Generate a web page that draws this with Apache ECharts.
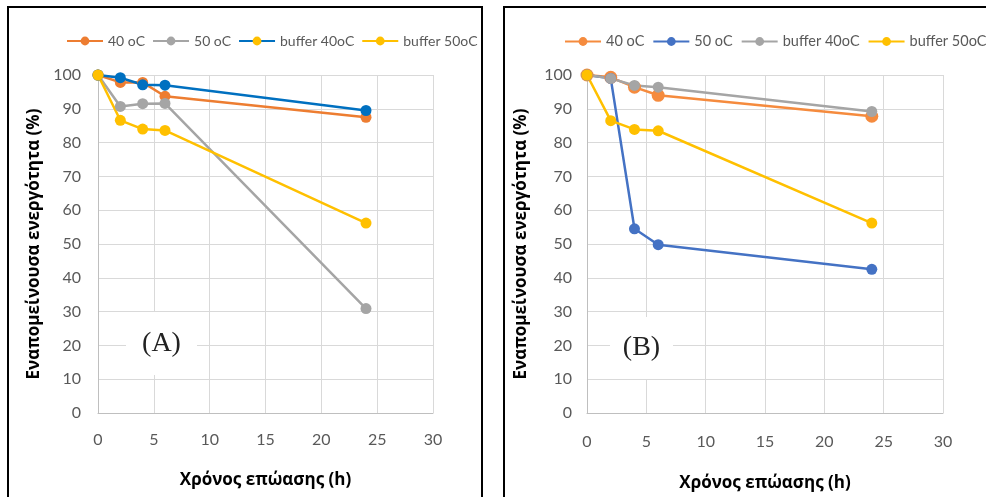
<!DOCTYPE html>
<html>
<head>
<meta charset="utf-8">
<script src="https://cdn.jsdelivr.net/npm/echarts@6/dist/echarts.min.js"></script>
<style>
  html, body { margin: 0; padding: 0; background: #fff; }
  #wrap { position: relative; width: 986px; height: 497px; overflow: hidden; }
  .panel { position: absolute; top: 0; width: 493px; height: 497px; }
</style>
</head>
<body>
<div id="wrap">
  <div id="panelA" class="panel" style="left:0"></div>
  <div id="panelB" class="panel" style="left:493px"></div>
</div>
<script>
// Incubation time (h)
const hours = [0, 2, 4, 6, 24];
const xTicks = { min: 0, max: 30, interval: 5 };
const yTicks = { min: 0, max: 100, interval: 10 };

// Panel (A): remaining activity (%)
const seriesNamesA = ['40 oC', '50 oC', 'buffer 40oC', 'buffer 50oC'];
const a40 = [100, 97.8, 97.8, 93.7, 87.5];
const a50 = [100, 90.7, 91.5, 91.6, 30.9];
const aBuf40 = [100, 99.2, 97.1, 97.0, 89.5];
const aBuf50 = [100, 86.6, 84.0, 83.6, 56.2];

// Panel (B): remaining activity (%)
const seriesNamesB = ['40 oC', '50 oC', 'buffer 40oC', 'buffer 50oC'];
const b40 = [100, 99.3, 96.4, 94.0, 87.8];
const b50 = [100, 99.0, 54.5, 49.8, 42.5];
const bBuf40 = [100, 99.0, 96.9, 96.4, 89.2];
const bBuf50 = [100, 86.5, 83.9, 83.5, 56.2];

const xTitle = 'Χρόνος επώασης (h)';
const yTitle = 'Εναπομείνουσα ενεργότητα (%)';

const labelFont = 'Lato, "Open Sans", sans-serif';
const titleFont = '"Open Sans", "Noto Sans", sans-serif';

function pairs(values) {
  return hours.map((h, i) => [h, values[i]]);
}

function lineSeries(name, values, color, markerColor, size) {
  return {
    name: name,
    type: 'line',
    data: pairs(values),
    symbol: 'circle',
    symbolSize: size,
    showSymbol: true,
    lineStyle: { color: color, width: 2.5 },
    itemStyle: { color: markerColor, borderWidth: 0 },
    emphasis: { disabled: true },
    z: 3
  };
}

function buildOption(cfg) {
  return {
    animation: false,
    textStyle: { fontFamily: labelFont },
    legend: {
      left: cfg.legendLeft,
      top: 34,
      width: 470,
      padding: 0,
      itemWidth: 36,
      itemHeight: 11,
      itemGap: cfg.legendGap,
      textStyle: { color: '#595959', fontSize: cfg.legendFont, fontFamily: labelFont },
      data: cfg.legendData
    },
    grid: cfg.grid,
    xAxis: {
      type: 'value',
      min: xTicks.min, max: xTicks.max, interval: xTicks.interval,
      name: xTitle,
      nameLocation: 'middle',
      nameGap: cfg.xNameGap,
      nameTextStyle: { color: '#000', fontSize: 17, fontWeight: 'bold', fontFamily: titleFont },
      axisLine: { show: true, lineStyle: { color: '#BFBFBF', width: 1 } },
      axisTick: { show: false },
      axisLabel: { color: '#595959', fontSize: 16, margin: cfg.xLabelMargin, fontFamily: labelFont },
      splitLine: { show: true, lineStyle: { color: '#D9D9D9', width: 1 } }
    },
    yAxis: {
      type: 'value',
      min: yTicks.min, max: yTicks.max, interval: yTicks.interval,
      name: yTitle,
      nameLocation: 'middle',
      nameGap: cfg.yNameGap,
      nameRotate: 90,
      nameTextStyle: { color: '#000', fontSize: 17, fontWeight: 'bold', fontFamily: titleFont },
      axisLine: { show: true, lineStyle: { color: '#BFBFBF', width: 1 } },
      axisTick: { show: false },
      axisLabel: { color: '#595959', fontSize: 16, margin: cfg.yLabelMargin, fontFamily: labelFont },
      splitLine: { show: true, lineStyle: { color: '#D9D9D9', width: 1 } }
    },
    graphic: [
      {
        type: 'rect',
        shape: cfg.frame,
        style: { fill: 'none', stroke: '#000', lineWidth: 2 },
        silent: true,
        z: 10
      },
      {
        type: 'rect',
        shape: cfg.tagBox,
        style: { fill: '#fff' },
        silent: true,
        z: 5
      },
      {
        type: 'text',
        x: cfg.tagBox.x + cfg.tagBox.width / 2,
        y: cfg.tagBox.y + cfg.tagBox.height / 2,
        style: {
          text: cfg.tag,
          fill: '#222',
          font: '28px "Liberation Serif", "DejaVu Serif", serif',
          align: 'center',
          verticalAlign: 'middle'
        },
        silent: true,
        z: 6
      }
    ],
    series: cfg.series
  };
}

// Panel (A)
const colA = { o: '#ED7D31', g: '#A5A5A5', b: '#0070C0', y: '#FFC000' };
const chartA = echarts.init(document.getElementById('panelA'), null, { renderer: 'canvas' });
chartA.setOption(buildOption({
  legendLeft: 66,
  legendGap: 7,
  legendFont: 14,
  legendData: [
    { name: seriesNamesA[0], itemStyle: { color: colA.o }, lineStyle: { color: colA.o } },
    { name: seriesNamesA[1], itemStyle: { color: colA.g }, lineStyle: { color: colA.g } },
    { name: seriesNamesA[2], itemStyle: { color: colA.y }, lineStyle: { color: colA.b } },
    { name: seriesNamesA[3], itemStyle: { color: colA.y }, lineStyle: { color: colA.y } }
  ],
  grid: { left: 98, top: 75, width: 335, height: 338 },
  xNameGap: 59,
  yNameGap: 54,
  xLabelMargin: 19,
  yLabelMargin: 17,
  frame: { x: 8, y: 7, width: 474, height: 520 },
  tagBox: { x: 126, y: 312, width: 71, height: 63 },
  tag: '(A)',
  series: [
    lineSeries(seriesNamesA[0], a40, colA.o, colA.o, 11),
    lineSeries(seriesNamesA[1], a50, colA.g, colA.g, 11),
    lineSeries(seriesNamesA[2], aBuf40, colA.b, colA.b, 11),
    lineSeries(seriesNamesA[3], aBuf50, colA.y, colA.y, 11)
  ]
}));

// Panel (B)
const colB = { o: '#F58B3E', b: '#4472C4', g: '#A5A5A5', y: '#FFC000' };
const chartB = echarts.init(document.getElementById('panelB'), null, { renderer: 'canvas' });
chartB.setOption(buildOption({
  legendLeft: 71,
  legendGap: 8,
  legendFont: 14.5,
  legendData: [
    { name: seriesNamesB[0], itemStyle: { color: colB.o }, lineStyle: { color: colB.o } },
    { name: seriesNamesB[1], itemStyle: { color: colB.b }, lineStyle: { color: colB.b } },
    { name: seriesNamesB[2], itemStyle: { color: colB.g }, lineStyle: { color: colB.g } },
    { name: seriesNamesB[3], itemStyle: { color: colB.y }, lineStyle: { color: colB.y } }
  ],
  grid: { left: 94, top: 75, width: 356, height: 344 },
  xNameGap: 62,
  yNameGap: 57,
  xLabelMargin: 21,
  yLabelMargin: 15,
  frame: { x: 11, y: 7, width: 520, height: 520 },
  tagBox: { x: 117, y: 317, width: 63, height: 62 },
  tag: '(B)',
  series: [
    lineSeries(seriesNamesB[0], b40, colB.o, colB.o, 13),
    lineSeries(seriesNamesB[1], b50, colB.b, colB.b, 11),
    lineSeries(seriesNamesB[2], bBuf40, colB.g, colB.g, 11),
    lineSeries(seriesNamesB[3], bBuf50, colB.y, colB.y, 11)
  ]
}));
</script>
</body>
</html>
